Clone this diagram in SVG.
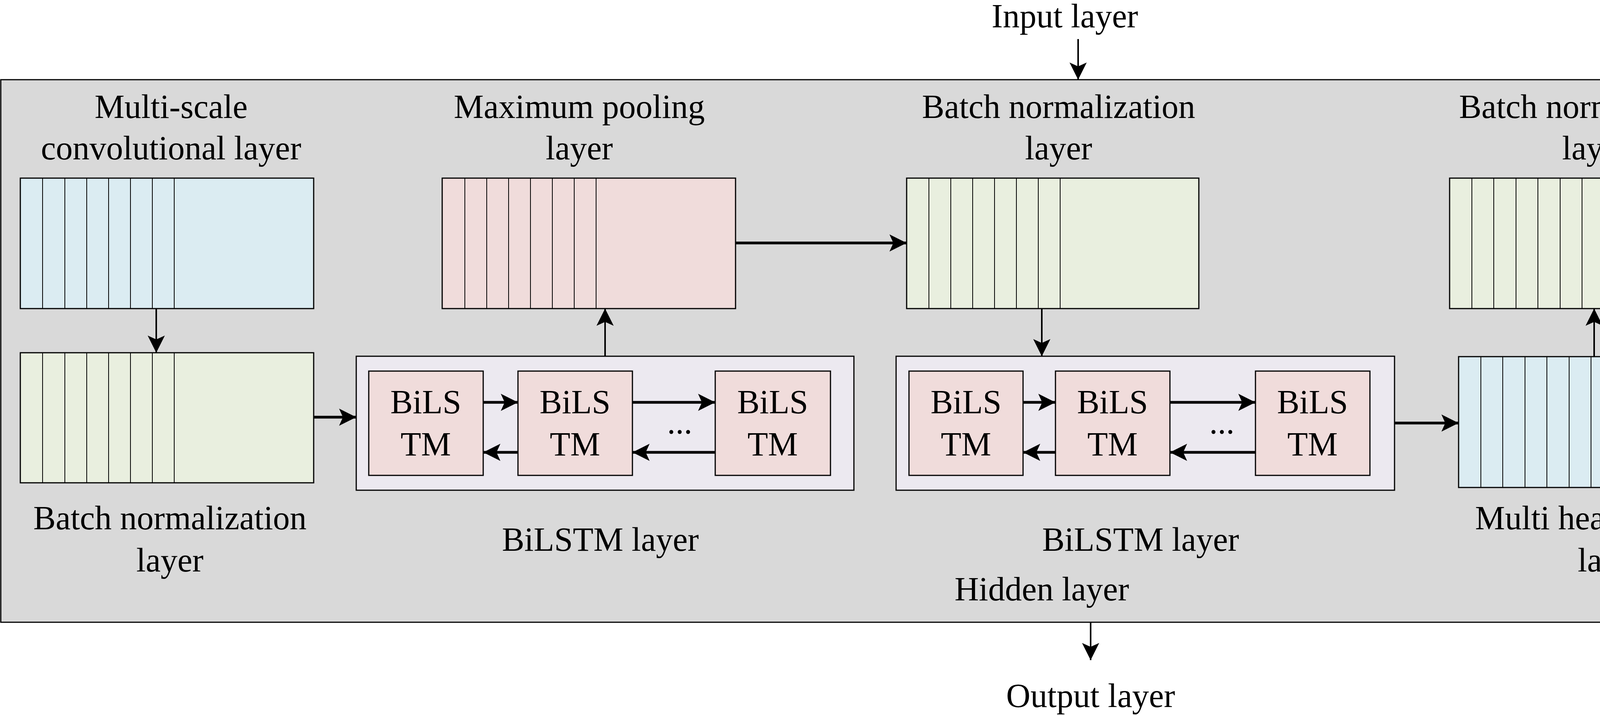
<svg xmlns="http://www.w3.org/2000/svg" width="5162" height="1833" viewBox="0 0 5162 1833">
<defs>
<style>
text{font-family:"Liberation Serif","Times New Roman",serif;font-size:86px;fill:#000;text-anchor:middle}
.blk{stroke:#000;stroke-width:3}
.blue{fill:#dbecf2}.green{fill:#e9efdf}.pink{fill:#f0dcdb}.cont{fill:#ece9f0;stroke:#000;stroke-width:3}
.st{stroke:#000;stroke-width:2}
.c{stroke:#000;stroke-width:4;fill:none;marker-end:url(#ah)}
.t{stroke:#000;stroke-width:7;fill:none;marker-end:url(#ah)}
</style>
<marker id="ah" markerUnits="userSpaceOnUse" markerWidth="50" markerHeight="44" refX="44" refY="22" orient="auto"><path d="M0,0 L44,22 L0,44 L10,22 Z" fill="#000"/></marker>
</defs>
<rect x="2" y="204" width="5150" height="1389" fill="#d9d9d9" stroke="#000" stroke-width="3"/>
<text x="2726" y="70">Input layer</text>
<text x="2667" y="1537">Hidden layer</text>
<text x="2792" y="1810">Output layer</text>

<g id="conv">
<rect class="blue blk" x="52" y="456" width="751" height="334"/>
<path class="st" d="M109,456V790M166,456V790M222,456V790M278,456V790M334,456V790M390,456V790M446,456V790"/>
<text x="438" y="302">Multi-scale</text><text x="438" y="408">convolutional layer</text>
</g>
<g id="bn1">
<rect class="green blk" x="52" y="903" width="751" height="333"/>
<path class="st" d="M109,903V1236M166,903V1236M222,903V1236M278,903V1236M334,903V1236M390,903V1236M446,903V1236"/>
<text x="435" y="1355">Batch normalization</text><text x="435" y="1463">layer</text>
</g>
<g id="pool">
<rect class="pink blk" x="1132" y="456" width="751" height="334"/>
<path class="st" d="M1190,456V790M1246,456V790M1302,456V790M1358,456V790M1414,456V790M1470,456V790M1526,456V790"/>
<text x="1483" y="302">Maximum pooling</text><text x="1483" y="408">layer</text>
</g>
<g id="bilstm1">
<rect class="cont" x="912" y="912" width="1274" height="343"/>
<rect class="pink blk" x="944" y="950" width="293" height="267"/>
<rect class="pink blk" x="1326" y="950" width="293" height="267"/>
<rect class="pink blk" x="1831" y="950" width="295" height="267"/>
<text x="1090" y="1058">BiLS</text><text x="1090" y="1166">TM</text>
<text x="1472" y="1058">BiLS</text><text x="1472" y="1166">TM</text>
<text x="1978" y="1058">BiLS</text><text x="1978" y="1166">TM</text>
<text x="1740" y="1110">...</text>
<text x="1537" y="1410">BiLSTM layer</text>
</g>
<g id="bn2">
<rect class="green blk" x="2321" y="456" width="748" height="334"/>
<path class="st" d="M2378,456V790M2434,456V790M2490,456V790M2546,456V790M2602,456V790M2658,456V790M2714,456V790"/>
<text x="2710" y="302">Batch normalization</text><text x="2710" y="408">layer</text>
</g>
<g id="bilstm2">
<rect class="cont" x="2294" y="912" width="1276" height="343"/>
<rect class="pink blk" x="2327" y="950" width="292" height="267"/>
<rect class="pink blk" x="2702" y="950" width="293" height="267"/>
<rect class="pink blk" x="3214" y="950" width="293" height="267"/>
<text x="2473" y="1058">BiLS</text><text x="2473" y="1166">TM</text>
<text x="2848" y="1058">BiLS</text><text x="2848" y="1166">TM</text>
<text x="3360" y="1058">BiLS</text><text x="3360" y="1166">TM</text>
<text x="3128" y="1110">...</text>
<text x="2920" y="1410">BiLSTM layer</text>
</g>
<g id="mha">
<rect class="blue blk" x="3734" y="913" width="750" height="335"/>
<path class="st" d="M3791,913V1248M3847,913V1248M3904,913V1248M3960,913V1248M4017,913V1248M4073,913V1248M4129,913V1248"/>
<text x="4125" y="1355">Multi head attention</text><text x="4125" y="1463">layer</text>
</g>
<g id="bn3">
<rect class="green blk" x="3711" y="456" width="750" height="334"/>
<path class="st" d="M3768,456V790M3824,456V790M3881,456V790M3937,456V790M3994,456V790M4050,456V790M4106,456V790"/>
<text x="4085" y="302">Batch normalization</text><text x="4085" y="408">layer</text>
</g>
<g id="fc">
<rect class="pink blk" x="4625" y="607" width="356" height="335"/>
<text x="4826" y="1080">Fully connected</text><text x="4826" y="1187">layer</text>
</g>

<g id="connectors">
<path class="c" d="M2760,100V204"/>
<path class="c" d="M2792,1593V1690"/>
<path class="c" d="M400,790V903"/>
<path class="t" d="M803,1068H912"/>
<path class="c" d="M1549,912V790"/>
<path class="t" d="M1883,622H2321"/>
<path class="c" d="M2667,790V912"/>
<path class="t" d="M3570,1083H3734"/>
<path class="c" d="M4081,913V790"/>
<path class="t" d="M4461,713H4625"/>
<path class="t" d="M1237,1030H1326"/><path class="t" d="M1326,1158H1237"/>
<path class="t" d="M1619,1030H1831"/><path class="t" d="M1831,1158H1619"/>
<path class="t" d="M2619,1030H2702"/><path class="t" d="M2702,1158H2619"/>
<path class="t" d="M2995,1030H3214"/><path class="t" d="M3214,1158H2995"/>
</g>
</svg>
